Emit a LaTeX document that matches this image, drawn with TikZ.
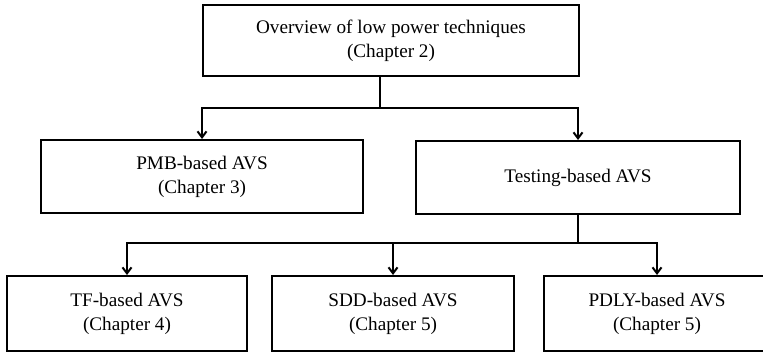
\documentclass[tikz,border=0pt]{standalone}
\usepackage{fontspec}
\setmainfont{Liberation Serif}
\usepackage{tikz}
\usetikzlibrary{positioning,calc,arrows,arrows.meta}

\tikzset{
  chapbox/.style={draw, line width=1pt, align=center, inner sep=0pt,
    font=\fontsize{9.6}{12}\selectfont},
  link/.style={line width=1pt},
  linkarr/.style={line width=1pt, -{Straight Barb[length=3pt,width=4.5pt]}}
}

\begin{document}
\begin{tikzpicture}[x=0.5pt, y=-0.5pt]
\clip (0,0) rectangle (763,353);
\node [chapbox, minimum width=188pt, minimum height=35.5pt] (ovw) at (391,40.5) {Overview of low power techniques\\(Chapter 2)};
\node [chapbox, minimum width=161pt, minimum height=36.5pt] (pmb) at (202,176.5) {PMB-based AVS\\(Chapter 3)};
\node [chapbox, minimum width=162pt, minimum height=36.5pt] (test) at (578,177.5) {Testing-based AVS};
\node [chapbox, minimum width=120pt, minimum height=37.5pt] (tf) at (127,313.5) {TF-based AVS\\(Chapter 4)};
\node [chapbox, minimum width=121pt, minimum height=37.5pt] (sdd) at (393,313.5) {SDD-based AVS\\(Chapter 5)};
\node [chapbox, minimum width=113pt, minimum height=37.5pt] (pdly) at (657,313.5) {PDLY-based AVS\\(Chapter 5)};
\coordinate (fork1) at (380,108);
\coordinate (fork2) at (578,243);
\draw [link] (fork1 |- ovw.south) -- (fork1);
\draw [linkarr] (fork1) -| (pmb.north);
\draw [linkarr] (fork1) -| (test.north);
\draw [link] (test.south) -- (fork2);
\draw [linkarr] (fork2) -| (tf.north);
\draw [linkarr] (fork2) -| (sdd.north);
\draw [linkarr] (fork2) -| (pdly.north);
\end{tikzpicture}
\end{document}
